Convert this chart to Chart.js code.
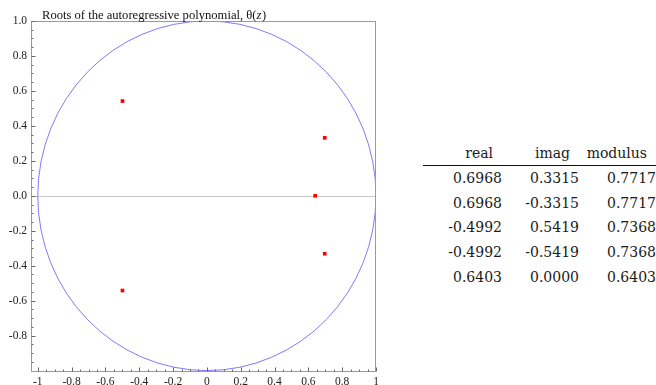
<!DOCTYPE html>
<html>
<head>
<meta charset="utf-8">
<script src="https://cdn.jsdelivr.net/npm/chart.js@4.4.1/dist/chart.umd.min.js"></script>
<style>
  html, body { margin: 0; padding: 0; background: #fff; width: 656px; height: 385px; overflow: hidden; }
  #wrap { position: absolute; left: 0; top: 0; width: 390px; height: 385px; }
  #tbl { position: absolute; left: 423px; top: 142px; width: 240px; font-family: "DejaVu Serif"; font-size: 14px; color: #1a1a1a; }
  .row { position: relative; height: 24.7px; line-height: 24.7px; }
  .cell { position: absolute; top: 0; text-align: right; white-space: nowrap; }
  .head { height: 23px; line-height: 23px; border-bottom: 1.6px solid #111; }
</style>
</head>
<body>
<div id="wrap"><canvas id="rootsChart"></canvas></div>
<div id="tbl"></div>
<script>
// roots
const rootReal = [0.6968, 0.6968, -0.4992, -0.4992, 0.6403];
const rootImag = [0.3315, -0.3315, 0.5419, -0.5419, 0.0000];
const rootModulus = [0.7717, 0.7717, 0.7368, 0.7368, 0.6403];
const tableHeaders = ['real', 'imag', 'modulus'];

const xTickValues = [-1, -0.8, -0.6, -0.4, -0.2, 0, 0.2, 0.4, 0.6, 0.8, 1];
const xTickLabels = ['-1', '-0.8', '-0.6', '-0.4', '-0.2', '0', '0.2', '0.4', '0.6', '0.8', '1'];
const yTickValues = [1, 0.8, 0.6, 0.4, 0.2, 0, -0.2, -0.4, -0.6, -0.8];
const yTickLabels = ['1.0', '0.8', '0.6', '0.4', '0.2', '0.0', '-0.2', '-0.4', '-0.6', '-0.8'];
const unitRadius = 1;
const titleText = 'Roots of the autoregressive polynomial, \u03b8(';

// table on the right
const tbl = document.getElementById('tbl');
const colRight = [79, 156, 233];
function addRow(vals, cls, pad) {
  const row = document.createElement('div');
  row.className = 'row' + (cls ? ' ' + cls : '');
  vals.forEach((v, i) => {
    const c = document.createElement('div');
    c.className = 'cell';
    c.textContent = v;
    c.style.right = (240 - colRight[i] + pad) + 'px';
    row.appendChild(c);
  });
  tbl.appendChild(row);
}
addRow(tableHeaders, 'head', 9);
for (let i = 0; i < rootReal.length; i++) {
  addRow([rootReal[i].toFixed(4), rootImag[i].toFixed(4), rootModulus[i].toFixed(4)], '', 0);
}

// frame, zero line, inner ticks, unit circle, title
const decor = {
  id: 'decor',
  beforeDatasetsDraw(chart) {
    const { ctx, chartArea: a, scales: { x, y } } = chart;
    ctx.save();
    ctx.strokeStyle = '#c8c8c8';
    ctx.lineWidth = 1;
    const y0 = Math.round(y.getPixelForValue(0)) + 0.5;
    ctx.beginPath(); ctx.moveTo(a.left, y0); ctx.lineTo(a.right, y0); ctx.stroke();
    // unit circle
    ctx.beginPath();
    ctx.rect(a.left, a.top, a.right - a.left, a.bottom - a.top);
    ctx.clip();
    const cx = x.getPixelForValue(0), cy = y.getPixelForValue(0);
    const rx = x.getPixelForValue(unitRadius) - cx;
    const ry = cy - y.getPixelForValue(unitRadius);
    ctx.strokeStyle = 'rgba(110,110,250,0.9)';
    ctx.beginPath(); ctx.ellipse(cx, cy, rx, ry, 0, 0, Math.PI * 2); ctx.stroke();
    ctx.restore();
  },
  afterDraw(chart) {
    const { ctx, chartArea: a, scales: { x, y } } = chart;
    ctx.save();
    ctx.strokeStyle = '#9a9a9a';
    ctx.lineWidth = 1;
    const L = Math.round(a.left) + 0.5, R = Math.round(a.right) - 0.5;
    const T = Math.round(a.top) + 0.5, B = Math.round(a.bottom) - 0.5;
    ctx.strokeRect(L, T, R - L, B - T);
    // ticks inside the frame
    ctx.strokeStyle = '#666';
    ctx.beginPath();
    for (let k = -20; k <= 20; k++) {
      const v = k * 0.05;
      const len = k % 4 === 0 ? 4 : 2;
      const px = Math.round(x.getPixelForValue(v)) + 0.5;
      if (px > L && px <= R + 1) { ctx.moveTo(px, B); ctx.lineTo(px, B - len); }
      const py = Math.round(y.getPixelForValue(v)) + 0.5;
      if (py >= T - 1 && py < B) { ctx.moveTo(L, py); ctx.lineTo(L + len, py); }
    }
    ctx.stroke();
    // title
    ctx.fillStyle = '#111';
    ctx.font = '12.6px "Times New Roman"';
    ctx.textBaseline = 'alphabetic';
    let tx = 42;
    const ty = 18.5;
    ctx.fillText(titleText, tx, ty);
    tx += ctx.measureText(titleText).width;
    ctx.font = 'italic 12.6px "Times New Roman"';
    ctx.fillText('z', tx, ty);
    tx += ctx.measureText('z').width + 0.5;
    ctx.font = '12.6px "Times New Roman"';
    ctx.fillText(')', tx, ty);
    ctx.restore();
  }
};

const tickFont = { family: '"Liberation Serif"', size: 11.5 };

const config = {
  type: 'scatter',
  data: {
    datasets: [{
      data: rootReal.map((r, i) => ({ x: r, y: rootImag[i] })),
      backgroundColor: '#ff0000',
      borderWidth: 0,
      pointStyle: 'rect',
      pointRadius: 2.6,
      pointHoverRadius: 2.6
    }]
  },
  options: {
    responsive: true,
    maintainAspectRatio: false,
    animation: false,
    events: [],
    layout: { padding: { top: 21, right: 14, left: 0, bottom: 0 } },
    plugins: { legend: { display: false }, title: { display: false }, tooltip: { enabled: false } },
    scales: {
      x: {
        type: 'linear',
        min: -1.04,
        max: 1,
        afterBuildTicks: (axis) => { axis.ticks = xTickValues.map(v => ({ value: v })); },
        afterFit: (axis) => { axis.height = 13; },
        ticks: {
          autoSkip: false,
          maxRotation: 0,
          padding: 3,
          color: '#222',
          font: tickFont,
          callback: (v, i) => xTickLabels[i]
        },
        grid: { display: false, drawTicks: false },
        border: { display: false }
      },
      y: {
        type: 'linear',
        min: -1.008,
        max: 1,
        afterBuildTicks: (axis) => { axis.ticks = yTickValues.map(v => ({ value: v })); },
        afterFit: (axis) => { axis.width = 31; },
        ticks: {
          autoSkip: false,
          padding: 4,
          color: '#222',
          font: tickFont,
          callback: (v, i) => yTickLabels[i]
        },
        grid: { display: false, drawTicks: false },
        border: { display: false }
      }
    }
  },
  plugins: [decor]
};

new Chart(document.getElementById('rootsChart'), config);
</script>
</body>
</html>
